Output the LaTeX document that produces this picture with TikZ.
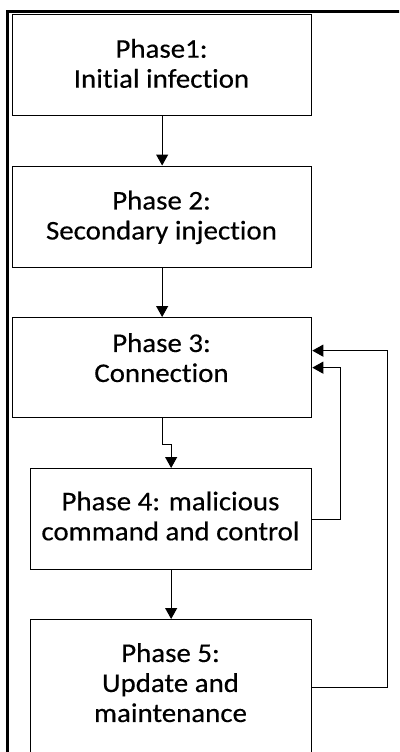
\documentclass[tikz,border=0pt]{standalone}
\usepackage{fontspec}
\setmainfont{Carlito}[FakeStretch=1.07,FakeBold=0.4,Ligatures=NoCommon]
\usetikzlibrary{arrows.meta}
\begin{document}
\begin{tikzpicture}[x=1pt,y=1pt,
  box/.style={draw, line width=1.3pt, anchor=north west, inner sep=0pt},
  lbl/.style={align=center, font=\fontsize{27}{30}\selectfont, inner sep=0pt},
  arr/.style={line width=1.1pt, -{Triangle[width=12pt,length=11pt]}}]
\useasboundingbox (0,0) rectangle (399,-752);
\clip (0,0) rectangle (399,-752);
% outer frame
\draw[line width=3pt] (7.5,-11.3) rectangle (440,-790);
% boxes
\node[box, minimum width=299, minimum height=101] (b1) at (12,-14) {};
\node[box, minimum width=299, minimum height=101] (b2) at (12,-165.5) {};
\node[box, minimum width=299, minimum height=100] (b3) at (12,-317) {};
\node[box, minimum width=281, minimum height=101] (b4) at (30,-468) {};
\node[box, minimum width=281, minimum height=135] (b5) at (30,-619) {};
% texts
\node[lbl] (t1) at (161.5,-63.4) {Phase1:\\Initial infection};
\node[lbl] (t2) at (161.5,-217.4) {Phase 2:\\Secondary injection};
\node[lbl] (t3) at (161.5,-357.7) {Phase 3:\\Connection};
\node[lbl] (t4) at (170.5,-516) {Phase 4: malicious\\command and control};
\node[lbl] (t5) at (170.5,-682.7) {Phase 5:\\Update and\\maintenance};
% connectors
\draw[arr] (b1.south) -- (b2.north);
\draw[arr] (b2.south) -- (b3.north);
\draw[arr] (b3.south) -- ++(0,-26) -| (b4.north);
\draw[arr] (b4.south) -- (b5.north);
\draw[arr] (b4.east) -- ++(28,0) |- (b3.east);
\draw[arr] (b5.east) -- ++(75,0) |- ([yshift=17pt]b3.east);
\end{tikzpicture}
\end{document}
